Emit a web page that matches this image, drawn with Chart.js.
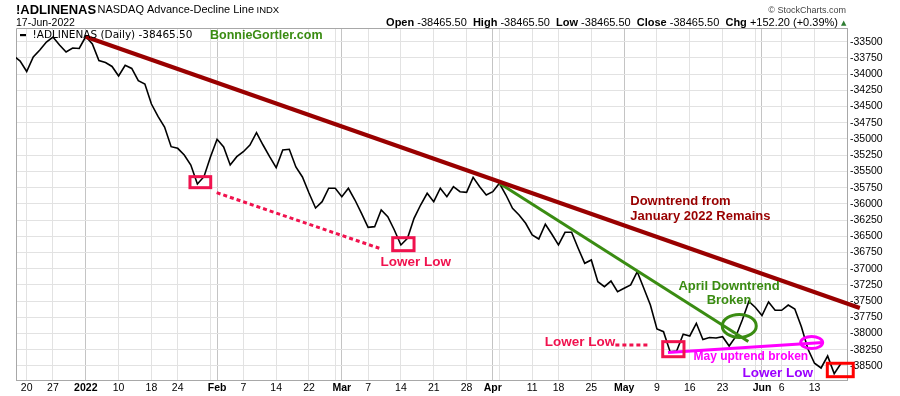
<!DOCTYPE html>
<html><head><meta charset="utf-8">
<script src="https://cdn.jsdelivr.net/npm/chart.js@4.4.1/dist/chart.umd.min.js"></script>
<style>html,body{margin:0;padding:0;background:#fff;}#wrap{position:relative;width:900px;height:396px;}</style>
</head><body><div id="wrap"><canvas id="c"></canvas></div>
<script>
// ---------- DATA ----------
const dates = [
'2021-12-16','2021-12-17','2021-12-20','2021-12-21','2021-12-22','2021-12-23','2021-12-27','2021-12-28','2021-12-29','2021-12-30','2021-12-31',
'2022-01-03','2022-01-04','2022-01-05','2022-01-06','2022-01-07','2022-01-10','2022-01-11','2022-01-12','2022-01-13','2022-01-14',
'2022-01-18','2022-01-19','2022-01-20','2022-01-21','2022-01-24','2022-01-25','2022-01-26','2022-01-27','2022-01-28','2022-01-31',
'2022-02-01','2022-02-02','2022-02-03','2022-02-04','2022-02-07','2022-02-08','2022-02-09','2022-02-10','2022-02-11','2022-02-14',
'2022-02-15','2022-02-16','2022-02-17','2022-02-18','2022-02-22','2022-02-23','2022-02-24','2022-02-25','2022-02-28',
'2022-03-01','2022-03-02','2022-03-03','2022-03-04','2022-03-07','2022-03-08','2022-03-09','2022-03-10','2022-03-11','2022-03-14',
'2022-03-15','2022-03-16','2022-03-17','2022-03-18','2022-03-21','2022-03-22','2022-03-23','2022-03-24','2022-03-25','2022-03-28',
'2022-03-29','2022-03-30','2022-03-31','2022-04-01','2022-04-04','2022-04-05','2022-04-06','2022-04-07','2022-04-08','2022-04-11',
'2022-04-12','2022-04-13','2022-04-14','2022-04-18','2022-04-19','2022-04-20','2022-04-21','2022-04-22','2022-04-25','2022-04-26',
'2022-04-27','2022-04-28','2022-04-29','2022-05-02','2022-05-03','2022-05-04','2022-05-05','2022-05-06','2022-05-09','2022-05-10',
'2022-05-11','2022-05-12','2022-05-13','2022-05-16','2022-05-17','2022-05-18','2022-05-19','2022-05-20','2022-05-23','2022-05-24',
'2022-05-25','2022-05-26','2022-05-27','2022-05-31','2022-06-01','2022-06-02','2022-06-03','2022-06-06','2022-06-07','2022-06-08',
'2022-06-09','2022-06-10','2022-06-13','2022-06-14','2022-06-15','2022-06-16','2022-06-17'
];
const adValues = [
-33721,-33798,-33959,-33736,-33628,-33505,-33428,-33551,-33659,-33597,-33605,
-33420,-33535,-33790,-33821,-33882,-34029,-33864,-33913,-34101,-34152,
-34461,-34653,-34815,-35119,-35144,-35247,-35401,-35694,-35581,-35273,
-35005,-35124,-35401,-35273,-35196,-35093,-34903,-35093,-35273,-35443,
-35170,-35159,-35432,-35586,-35833,-36064,-35967,-35760,-35760,
-35890,-35760,-35941,-36146,-36362,-36352,-36095,-36198,-36403,-36634,
-36531,-36223,-36018,-35837,-35967,-35760,-35890,-35736,-35813,-35822,
-35591,-35736,-35864,-35813,-35683,-35864,-36069,-36172,-36300,-36480,
-36542,-36315,-36469,-36634,-36439,-36439,-36685,-36917,-36866,-37200,
-37277,-37190,-37354,-37302,-37251,-37046,-37302,-37560,-37930,-37971,
-38280,-38269,-38011,-38037,-37842,-38091,-38061,-38068,-38048,-38192,
-38048,-37791,-37506,-37598,-37722,-37513,-37641,-37641,-37560,-37621,
-37894,-38238,-38458,-38531,-38346,-38618,-38465.5
];
const tickDates = ['2021-12-20','2021-12-27','2022-01-03','2022-01-10','2022-01-18','2022-01-24','2022-01-31','2022-02-01','2022-02-07','2022-02-14','2022-02-22','2022-02-28','2022-03-01','2022-03-07','2022-03-14','2022-03-21','2022-03-28','2022-04-01','2022-04-04','2022-04-11','2022-04-18','2022-04-25','2022-05-02','2022-05-09','2022-05-16','2022-05-23','2022-05-31','2022-06-01','2022-06-06','2022-06-13'];
const tickLabels = ['20','27','2022','10','18','24','','Feb','7','14','22','','Mar','7','14','21','28','Apr','','11','18','25','May','9','16','23','','Jun','6','13'];
const majorDates = ['2022-01-03','2022-02-01','2022-03-01','2022-04-01','2022-05-02','2022-06-01'];
const yTicks = [-33500,-33750,-34000,-34250,-34500,-34750,-35000,-35250,-35500,-35750,-36000,-36250,-36500,-36750,-37000,-37250,-37500,-37750,-38000,-38250,-38500];

// annotation trend lines: [x (trading-day index), value]
const jan2022Downtrend = [[11,-33424],[128.9,-37606]];
const aprilDowntrend = [[74,-35683],[111.92,-38122]];
const mayUptrend = [[99.68,-38292],[123.3,-38138]];
const lowerLowDots1 = [[30.94,-35828],[55.71,-36685]];
const lowerLowDots2 = [[91.67,-38176],[96.84,-38176]];

// ---------- CONFIG ----------
const FONT = "'Liberation Sans', Arial, sans-serif";
const tickIdx = tickDates.map(d => dates.indexOf(d));
const labelByIdx = {}; tickIdx.forEach((v,i)=>labelByIdx[v]=tickLabels[i]);
const majorIdx = new Set(majorDates.map(d => dates.indexOf(d)));
const pts = arr => arr.map(p => ({x:p[0], y:p[1]}));

const CRIMSON = '#f0124e', DARKRED = '#990000', GREEN = '#3a8c12', MAGENTA = '#ff00ff', PURPLE = '#9b00ff';

const rects = [
  {x1:26.87,y1:-35581,x2:30.03,y2:-35751,c:CRIMSON},
  {x1:57.75,y1:-36522,x2:61.0,y2:-36722,c:CRIMSON},
  {x1:98.88,y1:-38125,x2:102.12,y2:-38357,c:CRIMSON},
  {x1:123.95,y1:-38458,x2:127.9,y2:-38665,c:'#ff0000'}
];
const ellipses = [
  {x:110.54,y:-37883,rx:17,ry:11.5,c:GREEN},
  {x:121.57,y:-38138,rx:11,ry:6,c:MAGENTA}
];
const notes = [
  {t:'Lower Low',x:61.25,y:-36901,c:CRIMSON,s:13.5,a:'center'},
  {t:'Lower Low',x:86.28,y:-38130,c:CRIMSON,s:13.5,a:'center'},
  {t:'Downtrend from',x:93.94,y:-35967,c:DARKRED,s:13,a:'left'},
  {t:'January 2022 Remains',x:93.94,y:-36187,c:DARKRED,s:13,a:'left'},
  {t:'April Downtrend',x:108.98,y:-37277,c:GREEN,s:13,a:'center'},
  {t:'Broken',x:108.98,y:-37482,c:GREEN,s:13,a:'center'},
  {t:'May uptrend broken',x:112.3,y:-38350,c:MAGENTA,s:12,a:'center'},
  {t:'Lower Low',x:116.4,y:-38613,c:PURPLE,s:13.5,a:'center'}
];

const deco = {
  id:'deco',
  beforeDraw(chart){
    const c=chart.ctx; c.save(); c.fillStyle='#fff'; c.fillRect(0,0,chart.width,chart.height); c.restore();
  },
  beforeDatasetsDraw(chart){
    const a=chart.chartArea,c=chart.ctx; c.save(); c.strokeStyle='#a8a8a8'; c.lineWidth=1;
    c.beginPath(); c.moveTo(Math.round(a.left)+0.5,a.bottom); c.lineTo(Math.round(a.left)+0.5,Math.round(a.top)+0.5); c.lineTo(a.right,Math.round(a.top)+0.5); c.stroke(); c.restore();
  },
  afterDatasetsDraw(chart){
    const c=chart.ctx, xs=chart.scales.x, ys=chart.scales.y;
    c.save();
    c.lineWidth=3;
    rects.forEach(r=>{
      const x1=xs.getPixelForValue(r.x1), x2=xs.getPixelForValue(r.x2), y1=ys.getPixelForValue(r.y1), y2=ys.getPixelForValue(r.y2);
      c.strokeStyle=r.c; c.strokeRect(x1,y1,x2-x1,y2-y1);
    });
    ellipses.forEach(e=>{
      c.strokeStyle=e.c; c.beginPath(); c.ellipse(xs.getPixelForValue(e.x),ys.getPixelForValue(e.y),e.rx,e.ry,0,0,Math.PI*2); c.stroke();
    });
    c.textBaseline='middle';
    notes.forEach(n=>{
      c.font='bold '+n.s+'px '+FONT; c.fillStyle=n.c; c.textAlign=n.a;
      c.fillText(n.t,xs.getPixelForValue(n.x),ys.getPixelForValue(n.y));
    });
    c.restore();
  },
  afterDraw(chart){
    const c=chart.ctx; c.save(); c.textBaseline='alphabetic'; c.textAlign='left'; c.fillStyle='#000';
    c.font='bold 13px '+FONT; c.fillText('!ADLINENAS',16,13.5);
    c.font='11px '+FONT; c.fillText('NASDAQ Advance-Decline Line',97.5,13);
    c.font='9.5px '+FONT; c.fillText('INDX',256.5,13);
    c.font='10.5px '+FONT; c.fillText('17-Jun-2022',16,26);
    // right info line
    const segs=[['Open',1],[' -38465.50  ',0],['High',1],[' -38465.50  ',0],['Low',1],[' -38465.50  ',0],['Close',1],[' -38465.50  ',0],['Chg',1],[' +152.20 (+0.39%) ',0]];
    let w=0; segs.forEach(s=>{c.font=(s[1]?'bold 11px ':'11px ')+FONT; w+=c.measureText(s[0]).width;});
    let x=841-w;
    segs.forEach(s=>{c.font=(s[1]?'bold 11px ':'11px ')+FONT; c.fillText(s[0],x,26); x+=c.measureText(s[0]).width;});
    c.fillStyle='#2e7d32'; c.font="7px 'DejaVu Sans'"; c.fillText('\u25B2',x,25);
    c.fillStyle='#444'; c.font='9px '+FONT; c.textAlign='right'; c.fillText('\u00A9 StockCharts.com',846,13);
    // legend
    c.textAlign='left'; c.fillStyle='#000'; c.fillRect(20,34,6,2.2);
    c.font="10.5px 'DejaVu Sans'"; c.textBaseline='middle'; c.fillText('!ADLINENAS (Daily) -38465.50',32.5,35.5);
    c.fillStyle='#3a8c12'; c.font='bold 12.5px '+FONT; c.fillText('BonnieGortler.com',210,35.5);
    c.restore();
  }
};

const lineDs = (data,color,width,dash,order)=>({data:pts(data),borderColor:color,borderWidth:width,borderDash:dash||[],pointRadius:0,tension:0,clip:false,order:order,borderCapStyle:'butt'});

new Chart(document.getElementById('c'),{
  type:'line',
  data:{datasets:[
    {data:adValues.map((v,i)=>({x:i,y:v})),borderColor:'#000',borderWidth:1.6,pointRadius:0,tension:0,order:5},
    lineDs(jan2022Downtrend,DARKRED,4,null,1),
    lineDs(aprilDowntrend,GREEN,3,null,1),
    lineDs(mayUptrend,MAGENTA,3,null,1),
    lineDs(lowerLowDots1,CRIMSON,3,[4,3],1),
    lineDs(lowerLowDots2,CRIMSON,3,[4,3],1)
  ]},
  options:{
    responsive:true,maintainAspectRatio:false,animation:false,
    layout:{padding:{left:16,top:28,right:0,bottom:0}},
    plugins:{legend:{display:false},tooltip:{enabled:false}},
    events:[],
    scales:{
      x:{type:'linear',min:0.37,max:126.95,
        afterBuildTicks:s=>{s.ticks=tickIdx.map(v=>({value:v}));},
        afterFit:s=>{s.height=16;},
        ticks:{autoSkip:false,maxRotation:0,minRotation:0,padding:1.5,color:'#000',
          callback:v=>labelByIdx[v]!==undefined?labelByIdx[v]:'',
          font:c=>({family:FONT,size:10.5,weight:(c.tick&&majorIdx.has(c.tick.value))?'bold':'normal'})},
        grid:{drawTicks:false,color:c=>(c.tick&&majorIdx.has(c.tick.value))?'#c4c4c4':'#e2e2e2',lineWidth:1},
        border:{display:true,color:'#a8a8a8'}
      },
      y:{position:'right',min:-38716,max:-33289,
        afterBuildTicks:s=>{s.ticks=yTicks.map(v=>({value:v}));},
        afterFit:s=>{s.width=53;},
        ticks:{padding:3,color:'#000',font:{family:FONT,size:10.5},callback:v=>String(v)},
        grid:{drawTicks:false,color:'#e2e2e2',lineWidth:1},
        border:{display:true,color:'#a8a8a8'}
      }
    }
  },
  plugins:[deco]
});
</script></body></html>
